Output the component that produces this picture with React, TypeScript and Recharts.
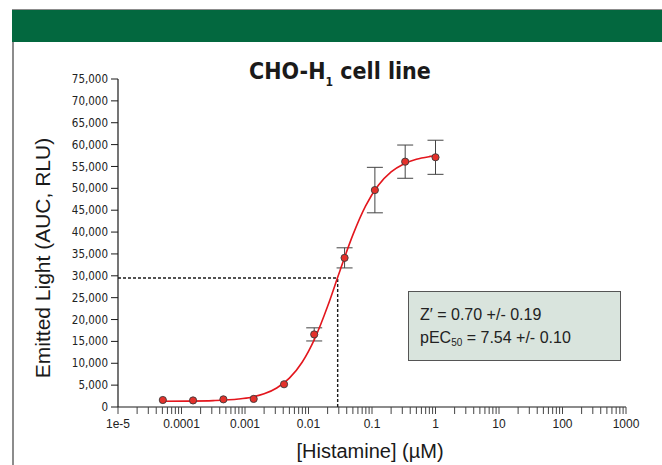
import { ComposedChart, Line, Scatter, ErrorBar, XAxis, YAxis, ReferenceLine } from 'recharts'

// measured points: 3-fold dilutions of histamine (µM), mean RLU and error
const CONC = [0.0000508, 0.000152, 0.000457, 0.00137, 0.00412, 0.0123, 0.037, 0.111, 0.333, 1]
const RLU = [1600, 1500, 1750, 1850, 5200, 16600, 34100, 49600, 56100, 57100]
const ERR = [0, 0, 0, 0, 0, 1500, 2300, 5200, 3800, 3900]

// fitted curve
const FIT_CONC = [
  0.00005, 0.000126, 0.000316, 0.000794, 0.00126, 0.002, 0.00316, 0.005, 0.00794, 0.0126,
  0.02, 0.0288, 0.0316, 0.05, 0.0794, 0.126, 0.2, 0.316, 0.5, 0.794, 1.05,
]
const FIT_RLU = [
  1315, 1348, 1460, 1825, 2250, 3010, 4350, 6590, 10230, 15690,
  23020, 29650, 31350, 39350, 45980, 50690, 53750, 55580, 56650, 57250, 57500,
]

const EC50 = 0.0288
const HALF_MAX = 29500

const Y_TICKS = [0, 5000, 10000, 15000, 20000, 25000, 30000, 35000, 40000, 45000, 50000, 55000, 60000, 65000, 70000, 75000]
const DECADES = [1e-5, 1e-4, 1e-3, 1e-2, 1e-1, 1, 10, 100, 1000]
const DECADE_LABELS = ['1e-5', '0.0001', '0.001', '0.01', '0.1', '1', '10', '100', '1000']
const MINOR = [2, 3, 4, 5, 6, 7, 8, 9]

const X_TICKS = DECADES.flatMap((d, i) => (i < DECADES.length - 1 ? [d, ...MINOR.map((m) => d * m)] : [d]))

const points = CONC.map((x, i) => ({ x, y: RLU[i], err: ERR[i] }))
const fit = FIT_CONC.map((x, i) => ({ x, y: FIT_RLU[i] }))

const NARROW = "'Liberation Sans Narrow', 'DejaVu Sans Condensed', 'Liberation Sans', sans-serif"
const SANS = "'Liberation Sans', Arial, sans-serif"

function XTick({ x, y, payload }: any) {
  const i = DECADES.findIndex((d) => Math.abs(Math.log10(d) - Math.log10(payload.value)) < 1e-6)
  if (i < 0) return null
  return (
    <text x={x} y={y + 12} textAnchor="middle" fontSize={12} fontFamily={SANS} fill="#222">
      {DECADE_LABELS[i]}
    </text>
  )
}

function Marker(p: any) {
  return <circle cx={p.cx} cy={p.cy} r={3.6} fill="#e4312b" stroke="#3a3a3a" strokeWidth={0.9} />
}

function NoMarker() {
  return <g />
}

export default function App() {
  return (
    <div style={{ position: 'relative', width: 662, height: 465, background: '#fff', overflow: 'hidden' }}>
      <style>{'body{margin:0}'}</style>

      {/* frame + green header band */}
      <div style={{ position: 'absolute', left: 12, top: 9, right: 0, bottom: 0, borderLeft: '2px solid #8c8c8c', borderTop: '1px solid #8c8c8c' }} />
      <div style={{ position: 'absolute', left: 12, top: 10, width: 650, height: 32, background: '#03683f' }} />

      <ComposedChart
        width={662}
        height={465}
        margin={{ top: 79, right: 36, bottom: 28, left: 0 }}
        style={{ position: 'absolute', left: 0, top: 0 }}
      >
        <XAxis
          dataKey="x"
          type="number"
          scale="log"
          domain={[1e-5, 1000]}
          allowDataOverflow
          ticks={X_TICKS}
          interval={0}
          tick={<XTick />}
          tickSize={7}
          height={30}
          axisLine={{ stroke: '#1a1a1a', strokeWidth: 1.2 }}
          tickLine={{ stroke: '#444' }}
        />
        <YAxis
          dataKey="y"
          type="number"
          domain={[0, 75000]}
          ticks={Y_TICKS}
          interval={0}
          width={118}
          tickSize={7}
          tickMargin={3}
          tickFormatter={(v: number) => v.toLocaleString('en-US')}
          tick={{ fontSize: 11.5, fontFamily: NARROW, fill: '#222' }}
          axisLine={{ stroke: '#1a1a1a', strokeWidth: 1.2 }}
          tickLine={{ stroke: '#1a1a1a' }}
        />
        <ReferenceLine
          segment={[{ x: 1e-5, y: HALF_MAX }, { x: EC50, y: HALF_MAX }]}
          stroke="#1a1a1a"
          strokeWidth={1.4}
          strokeDasharray="3 2"
        />
        <ReferenceLine
          segment={[{ x: EC50, y: 0 }, { x: EC50, y: HALF_MAX }]}
          stroke="#1a1a1a"
          strokeWidth={1.4}
          strokeDasharray="3 2"
        />
        {/* error bars first so the markers sit on top */}
        <Scatter data={points} dataKey="y" shape={NoMarker} isAnimationActive={false}>
          <ErrorBar dataKey="err" direction="y" width={8} stroke="#444" strokeWidth={1} />
        </Scatter>
        <Line
          data={fit}
          dataKey="y"
          type="monotone"
          stroke="#e3161d"
          strokeWidth={1.6}
          dot={false}
          activeDot={false}
          isAnimationActive={false}
        />
        <Scatter data={points} dataKey="y" shape={Marker} isAnimationActive={false} />
      </ComposedChart>

      {/* title */}
      <div
        style={{
          position: 'absolute', left: 190, top: 60, width: 300, textAlign: 'center',
          fontFamily: NARROW, fontWeight: 700, fontSize: 23, lineHeight: '23px', color: '#1a1a1a',
        }}
      >
        CHO-H<sub style={{ fontSize: 12, verticalAlign: -7, lineHeight: 0 }}>1</sub> cell line
      </div>

      {/* axis titles */}
      <div
        style={{
          position: 'absolute', left: 43, top: 258, transform: 'translate(-50%, -50%) rotate(-90deg)',
          whiteSpace: 'nowrap', fontFamily: SANS, fontSize: 21, color: '#1a1a1a',
        }}
      >
        Emitted Light (AUC, RLU)
      </div>
      <div
        style={{
          position: 'absolute', left: 370, top: 451, transform: 'translate(-50%, -50%)',
          whiteSpace: 'nowrap', fontFamily: SANS, fontSize: 20, color: '#1a1a1a',
        }}
      >
        [Histamine] (µM)
      </div>

      {/* stats box */}
      <div
        style={{
          position: 'absolute', left: 408, top: 291, width: 211, height: 68,
          background: '#d9e4dd', border: '1px solid #555',
        }}
      />
      <div style={{ position: 'absolute', left: 420, top: 307, fontFamily: SANS, fontSize: 16, lineHeight: '16px', color: '#222', whiteSpace: 'nowrap' }}>
        Z′ = 0.70 +/- 0.19
      </div>
      <div style={{ position: 'absolute', left: 420, top: 330, fontFamily: SANS, fontSize: 16, lineHeight: '16px', color: '#222', whiteSpace: 'nowrap' }}>
        pEC<sub style={{ fontSize: 10, verticalAlign: -3, lineHeight: 0 }}>50</sub> = 7.54 +/- 0.10
      </div>
    </div>
  )
}
